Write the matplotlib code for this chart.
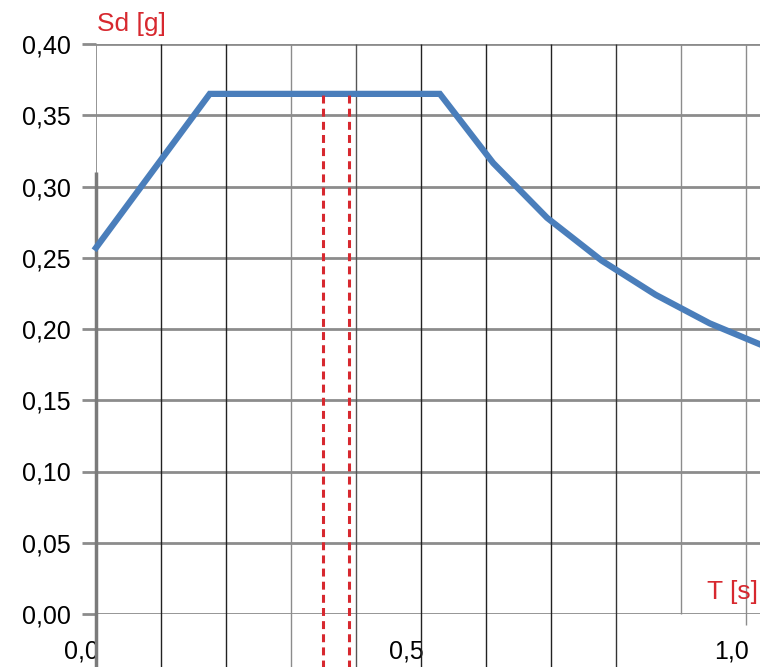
import matplotlib.pyplot as plt
import matplotlib.transforms as mtransforms

plt.rcParams['font.family'] = ['Liberation Sans', 'DejaVu Sans']

# спектр: период T [s] и ускорение Sd [g]
T = [0.0, 0.175, 0.529, 0.611, 0.694, 0.778, 0.861, 0.944, 1.028]
Sd = [0.257, 0.365, 0.365, 0.3165, 0.278, 0.248, 0.224, 0.204, 0.188]

# красные пунктирные линии (периоды конструкции)
T_mark = [0.349, 0.389]
Sd_mark = 0.365

y_ticks = [0.00, 0.05, 0.10, 0.15, 0.20, 0.25, 0.30, 0.35, 0.40]
y_labels = ['0,00', '0,05', '0,10', '0,15', '0,20', '0,25', '0,30', '0,35', '0,40']
x_ticks = [0.0, 0.5, 1.0]
x_labels = ['0,0', '0,5', '1,0']

# вертикальные линии сетки
x_grid = [0.1, 0.2, 0.3, 0.4, 0.5, 0.6, 0.7, 0.8, 0.9, 1.0]
x_grid_col = ['#222222', '#222222', '#8c8c8c', '#555555', '#222222',
              '#222222', '#222222', '#333333', '#8c8c8c', '#8c8c8c']
x_grid_low = [-0.04, -0.04, -0.04, -0.04, -0.04, -0.04, -0.04, -0.04, 0.0, -0.008]

red = '#d7282f'
blue = '#4a7ebb'
gray = '#8c8c8c'
fs = 18

fig = plt.figure(figsize=(7.6, 6.67), dpi=100)
ax = fig.add_axes([96/760, 53/667, 664/760, 570/667])
ax.set_xlim(0, 664/650)
ax.set_ylim(0, 0.40)
for s in ax.spines.values():
    s.set_visible(False)

# горизонтальная сетка
ax.set_yticks(y_ticks)
ax.set_yticklabels(y_labels, fontsize=fs)
ax.tick_params(axis='y', length=10, width=2, color=gray, pad=8)
ax.grid(axis='y', color=gray, linewidth=2)
ax.set_axisbelow(True)

# вертикальная сетка
ax.vlines([0.0], 0.0, 0.40, colors=gray, linewidth=1.3, zorder=1)
ax.vlines([0.0], -0.04, 0.31, colors='#7a7a7a', linewidth=2.5, zorder=1, clip_on=False)
for xg, c, lo in zip(x_grid, x_grid_col, x_grid_low):
    ax.vlines(xg, lo, 0.40, colors=c, linewidth=1.0, zorder=1, clip_on=False)

ax.set_xticks(x_ticks)
ax.set_xticklabels(x_labels, fontsize=fs)
ax.tick_params(axis='x', length=0, pad=18)
offset = mtransforms.ScaledTranslation(3/100, 0, fig.dpi_scale_trans)
for lab in ax.get_xticklabels():
    lab.set_horizontalalignment('right')
    lab.set_transform(lab.get_transform() + offset)

# кривая спектра
ax.plot(T, Sd, color=blue, linewidth=4.5, solid_joinstyle='miter', zorder=3, clip_on=False)

# пунктир
for tm in T_mark:
    ax.vlines(tm, -0.04, Sd_mark, colors=red, linewidth=2.2,
              linestyles=(0, (2.6, 1.7)), zorder=4, clip_on=False)

fig.text(97/760, 1 - 24/667, 'Sd [g]', color=red, fontsize=fs + 1, ha='left', va='center')
fig.text(758/760, 1 - 592/667, 'T [s]', color=red, fontsize=fs + 1, ha='right', va='center')

fig.savefig('out.png', dpi=100)
